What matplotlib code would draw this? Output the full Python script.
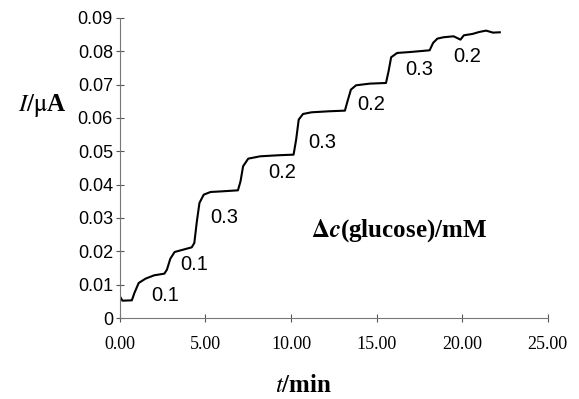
import matplotlib
matplotlib.use('agg')
import matplotlib.pyplot as plt

plt.rcParams['mathtext.fontset'] = 'stix'

# current-time response
t_min = [0.0, 0.15, 0.7, 0.85, 1.1, 1.5, 2.0, 2.6, 2.75, 2.95, 3.2, 3.7, 4.2, 4.35, 4.5, 4.65, 4.9, 5.3, 6.0, 6.9,
         7.05, 7.2, 7.5, 8.2, 9.2, 10.15, 10.3, 10.45, 10.7, 11.2, 12.2, 13.15, 13.3, 13.5, 13.8, 14.6, 15.55,
         15.7, 15.85, 16.2, 17.0, 18.1, 18.3, 18.55, 18.9, 19.5, 19.9, 20.1, 20.6, 21.0, 21.4, 21.8, 22.2]
current = [0.0065, 0.0052, 0.0053, 0.0075, 0.0105, 0.0118, 0.0128, 0.0133, 0.0145, 0.0178, 0.0198, 0.0205, 0.0212,
           0.0225, 0.029, 0.0345, 0.037, 0.0378, 0.038, 0.0383,
           0.041, 0.0455, 0.0478, 0.0485, 0.0488, 0.0490, 0.0535, 0.0595, 0.0612, 0.0617, 0.0620, 0.0622, 0.065,
           0.0685, 0.0698, 0.0703, 0.0705,
           0.074, 0.0782, 0.0795, 0.0798, 0.0803, 0.0825, 0.0838, 0.0842, 0.0845, 0.0835, 0.0848, 0.0852, 0.0858,
           0.0862, 0.0856, 0.0857]

# glucose additions (mM) and label positions
step_labels = ['0.1', '0.1', '0.3', '0.2', '0.3', '0.2', '0.3', '0.2']
label_t = [2.65, 4.35, 6.1, 9.5, 11.8, 14.7, 17.5, 20.3]
label_i = [0.0066, 0.0159, 0.030, 0.0435, 0.0525, 0.064, 0.0744, 0.0783]

x_ticks = [0, 5, 10, 15, 20, 25]
y_ticks = [0, 0.01, 0.02, 0.03, 0.04, 0.05, 0.06, 0.07, 0.08, 0.09]

fig = plt.figure(figsize=(5.79, 3.99), dpi=100)
ax = fig.add_axes([0.207, 0.203, 0.739, 0.752])

ax.plot(t_min, current, color='black', lw=1.5)

for s, x, y in zip(step_labels, label_t, label_i):
    ax.text(x, y, s, ha='center', va='center', fontsize=14.5, family='Liberation Sans')

ax.text(16.3, 0.0262, r'$\mathbf{\Delta}\boldsymbol{c}$' + '(glucose)/mM', ha='center', va='center',
        fontsize=18, family='Liberation Serif', weight='bold')

ax.set_xlim(0, 25)
ax.set_ylim(0, 0.09)
ax.set_xticks(x_ticks)
ax.set_xticklabels(['%.2f' % v for v in x_ticks], family='Liberation Serif', fontsize=13)
ax.set_yticks(y_ticks)
ax.set_yticklabels(['0'] + ['%.2f' % v for v in y_ticks[1:]], family='Liberation Sans', fontsize=13)
ax.tick_params(direction='inout', length=6, width=0.8, color='#555555')
ax.tick_params(axis='x', pad=10)
ax.tick_params(axis='y', pad=2)

for side in ['top', 'right']:
    ax.spines[side].set_visible(False)
for side in ['left', 'bottom']:
    ax.spines[side].set_color('#777777')
    ax.spines[side].set_linewidth(0.8)

fig.text(0.073, 0.735, r'$I$/$\mathrm{\mu}$A', ha='center', va='center', fontsize=18, family='Liberation Serif',
         weight='bold')
fig.text(0.525, 0.035, r'$t$/min', ha='center', va='center', fontsize=18, family='Liberation Serif',
         weight='bold')

fig.savefig('out.png', dpi=100)
